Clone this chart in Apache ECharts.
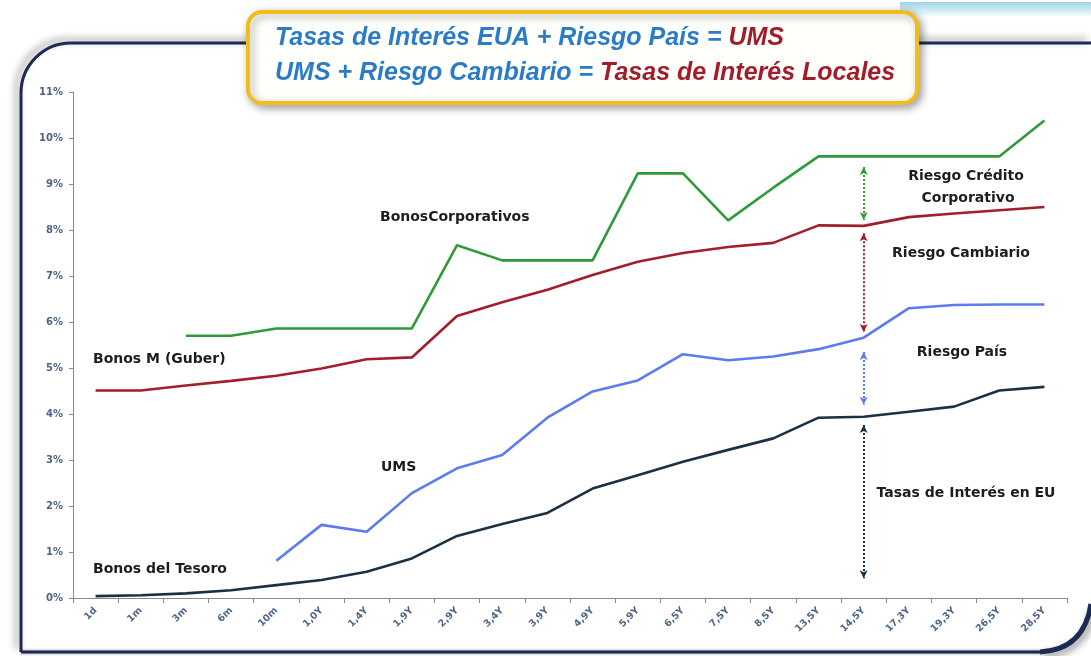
<!DOCTYPE html>
<html><head><meta charset="utf-8">
<script src="https://cdn.jsdelivr.net/npm/echarts@6/dist/echarts.min.js"></script>
<style>html,body{margin:0;padding:0;background:#fff}#c{width:1091px;height:656px}</style>
</head><body><div id="c"></div>
<script>
const categories = ['1d','1m','3m','6m','10m','1,0Y','1,4Y','1,9Y','2,9Y','3,4Y','3,9Y','4,9Y','5,9Y','6,5Y','7,5Y','8,5Y','13,5Y','14,5Y','17,3Y','19,3Y','26,5Y','28,5Y'];
const bonosCorporativos = [null,null,5.70,5.70,5.86,5.86,5.86,5.86,7.67,7.34,7.34,7.34,9.23,9.23,8.21,8.92,9.60,9.60,9.60,9.60,9.60,10.38];
const bonosM = [4.51,4.51,4.62,4.72,4.83,4.99,5.19,5.23,6.13,6.43,6.70,7.02,7.31,7.50,7.63,7.72,8.10,8.09,8.28,8.36,8.43,8.50];
const ums = [null,null,null,null,0.81,1.59,1.44,2.28,2.82,3.11,3.92,4.49,4.73,5.30,5.17,5.25,5.41,5.66,6.30,6.37,6.38,6.38];
const bonosTesoro = [0.04,0.06,0.10,0.17,0.28,0.39,0.57,0.86,1.35,1.61,1.85,2.38,2.67,2.96,3.22,3.47,3.92,3.94,4.05,4.16,4.51,4.59];
const yMin = 0, yMax = 11, yStep = 1;
const arrowCategory = '14,5Y';
const spreadCorporativo = [9.37, 8.22];
const spreadCambiario = [7.93, 5.78];
const spreadPais = [5.35, 4.20];
const spreadEU = [3.76, 0.43];

const C_GREEN = '#2f9a3a', C_RED = '#a31e2b', C_BLUE = '#5b7bee', C_NAVY = '#1b2f45';

function arrow(range, color) {
  return {
    silent: true,
    symbol: ['arrow', 'arrow'],
    symbolSize: [6, 8],
    label: { show: false },
    lineStyle: { color: color, type: 'dotted', width: 2, opacity: 1 },
    emphasis: { disabled: true },
    data: [[{ coord: [arrowCategory, range[0]] }, { coord: [arrowCategory, range[1]] }]]
  };
}
function lineSeries(name, data, color, range) {
  return {
    name: name, type: 'line', data: data, symbol: 'none', connectNulls: false,
    lineStyle: { color: color, width: 2.6 }, itemStyle: { color: color },
    markLine: arrow(range, color), z: 3
  };
}
const labelFont = { fontFamily: 'DejaVu Sans', fontWeight: 'bold', fontSize: 14, fill: '#1d1d1d' };
function txt(text, x, y, align) {
  return { type: 'text', x: x, y: y, z: 10,
    style: Object.assign({ text: text, textAlign: align || 'left', textVerticalAlign: 'middle' }, labelFont) };
}
const frameStyle = { stroke: '#1c2a55', lineWidth: 3, fill: null, shadowBlur: 7, shadowColor: 'rgba(0,0,0,0.45)', shadowOffsetX: -4, shadowOffsetY: -3 };

const chart = echarts.init(document.getElementById('c'), null, { renderer: 'canvas' });
chart.setOption({
  animation: false,
  backgroundColor: '#ffffff',
  grid: { left: 73, right: 24, top: 92, bottom: 58, containLabel: false },
  xAxis: {
    type: 'category', data: categories, boundaryGap: true,
    axisLine: { lineStyle: { color: '#8a8a8a', width: 1 } },
    axisTick: { show: true, alignWithLabel: false, length: 5, lineStyle: { color: '#8a8a8a' } },
    axisLabel: { rotate: 45, fontSize: 9.5, fontWeight: 'bold', fontFamily: 'DejaVu Sans', color: '#4d6585', margin: 11, interval: 0 },
    splitLine: { show: false }
  },
  yAxis: {
    type: 'value', min: yMin, max: yMax, interval: yStep,
    axisLine: { show: true, lineStyle: { color: '#8a8a8a', width: 1 } },
    axisTick: { show: true, length: 4, lineStyle: { color: '#8a8a8a' } },
    axisLabel: { formatter: '{value}%', fontSize: 10, fontWeight: 'bold', fontFamily: 'DejaVu Sans', color: '#4d6585', margin: 10 },
    splitLine: { show: false }
  },
  series: [
    lineSeries('Bonos Corporativos', bonosCorporativos, C_GREEN, spreadCorporativo),
    lineSeries('Bonos M (Guber)', bonosM, C_RED, spreadCambiario),
    lineSeries('UMS', ums, C_BLUE, spreadPais),
    lineSeries('Bonos del Tesoro', bonosTesoro, C_NAVY, spreadEU)
  ],
  graphic: [
    { type: 'rect', z: -5, shape: { x: 900, y: 2, width: 191, height: 14 },
      style: { fill: new echarts.graphic.LinearGradient(0, 0, 0, 1, [{ offset: 0, color: '#9fd3e8' }, { offset: 1, color: '#f4fbfd' }]) } },
    { type: 'line', z: -4, shape: { x1: 71, y1: 43, x2: 1091, y2: 43 }, style: frameStyle },
    { type: 'arc', z: -4, shape: { cx: 71, cy: 93, r: 50, startAngle: Math.PI, endAngle: Math.PI * 1.5, clockwise: true }, style: frameStyle },
    { type: 'line', z: -4, shape: { x1: 21, y1: 93, x2: 21, y2: 652 }, style: frameStyle },
    { type: 'line', z: -4, shape: { x1: 21, y1: 652, x2: 1040, y2: 652 }, style: Object.assign({}, frameStyle, { shadowOffsetX: 0, shadowOffsetY: 0, shadowBlur: 3 }) },
    { type: 'bezierCurve', z: -4, shape: { x1: 1040, y1: 652, x2: 1091, y2: 604, cpx1: 1084, cpy1: 650 }, style: Object.assign({}, frameStyle, { lineWidth: 5, shadowOffsetX: 3, shadowOffsetY: 3 }) },
    { type: 'rect', z: 5, shape: { x: 248, y: 12, width: 669, height: 91, r: 14 },
      style: { fill: '#fffffb', stroke: '#f2bd18', lineWidth: 4, shadowBlur: 8, shadowColor: 'rgba(0,0,0,0.35)', shadowOffsetX: 3, shadowOffsetY: 3 } },
    { type: 'text', z: 6, x: 275, y: 21,
      style: {
        text: '{b|Tasas de Interés EUA + Riesgo País = }{r|UMS}\n{b|UMS + Riesgo Cambiario = }{r|Tasas de Interés Locales}',
        rich: {
          b: { fill: '#2b7cc6', fontSize: 25, fontWeight: 'bold', fontStyle: 'italic', fontFamily: 'Arial', lineHeight: 35 },
          r: { fill: '#a21d29', fontSize: 25, fontWeight: 'bold', fontStyle: 'italic', fontFamily: 'Arial', lineHeight: 35 }
        }
      } },
    txt('BonosCorporativos', 380, 217),
    txt('Bonos M (Guber)', 93, 359),
    txt('UMS', 381, 467),
    txt('Bonos del Tesoro', 93, 569),
    txt('Riesgo Crédito', 966, 176, 'center'),
    txt('Corporativo', 968, 198, 'center'),
    txt('Riesgo Cambiario', 961, 253, 'center'),
    txt('Riesgo País', 962, 352, 'center'),
    txt('Tasas de Interés en EU', 966, 493, 'center')
  ]
});
</script></body></html>
